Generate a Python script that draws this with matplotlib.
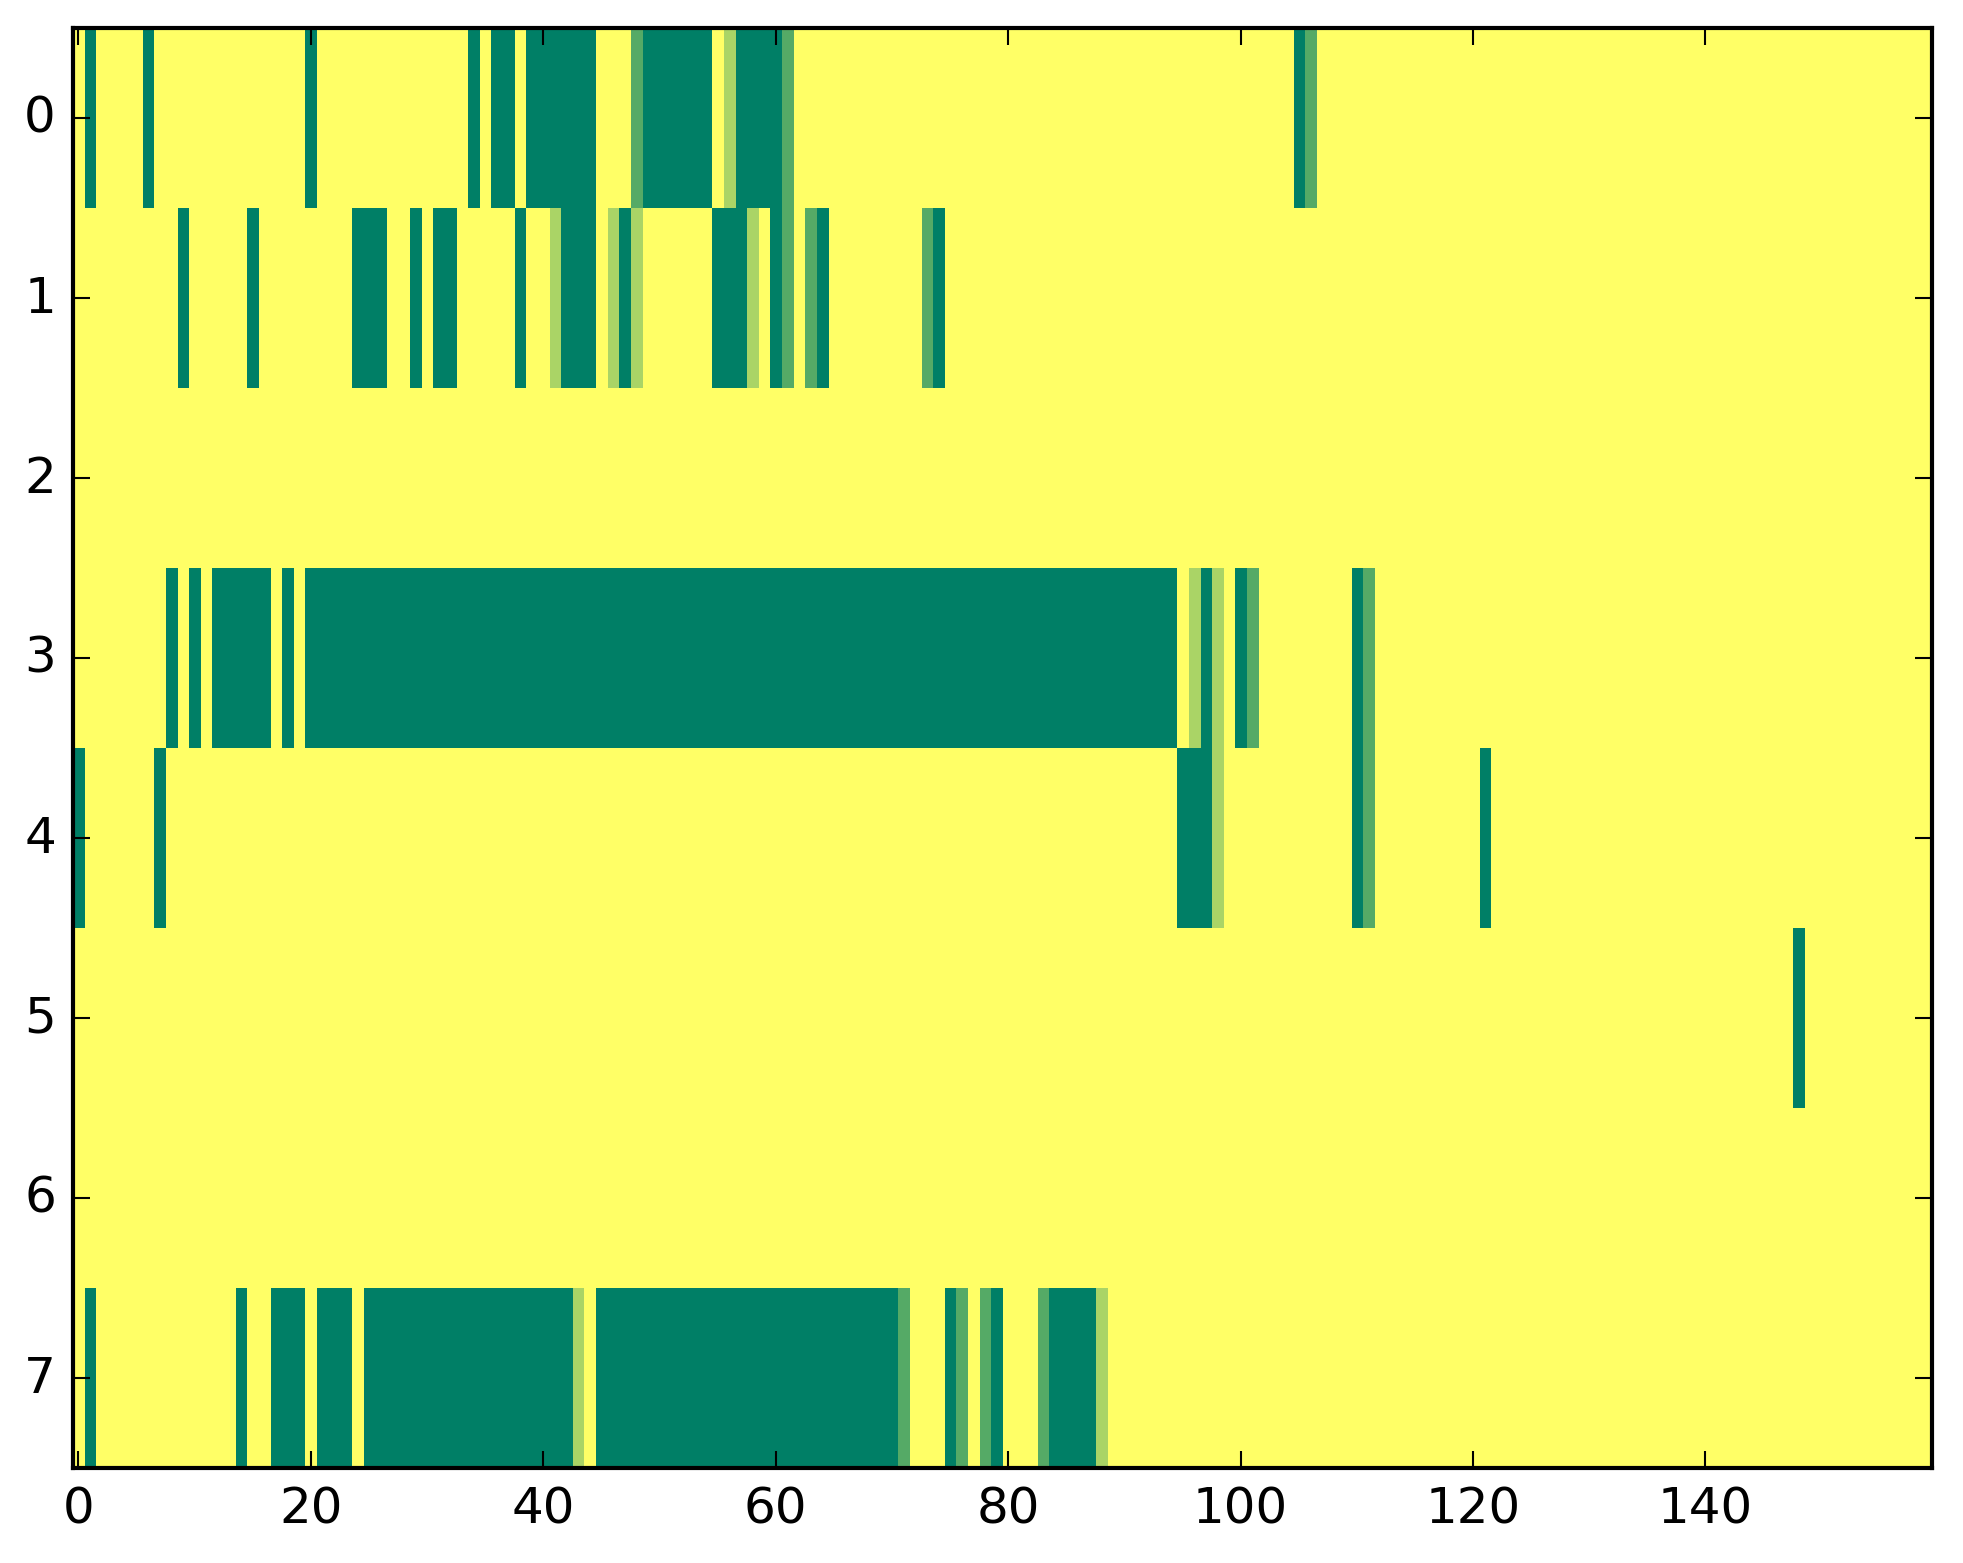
import numpy as np
import matplotlib
matplotlib.use("Agg")
import matplotlib.pyplot as plt

# one string per row, 160 cells, written in blocks of 10 columns
# D = 0 (dark green), M = 1, L = 2, . = 3 (yellow)
row0 = ".D....D... .......... D......... ....D.DD.D DDDDD...MD DDDDD.LDDD DM........ .......... .......... .......... .....DM... .......... .......... .......... .......... .........."
row1 = ".........D .....D.... ....DDD..D .DD.....D. .LDDD.LDL. .....DDDL. DM.MD..... ...MD..... .......... .......... .......... .......... .......... .......... .......... .........."
row2 = ".......... .......... .......... .......... .......... .......... .......... .......... .......... .......... .......... .......... .......... .......... .......... .........."
row3 = "........D. D.DDDDD.D. DDDDDDDDDD DDDDDDDDDD DDDDDDDDDD DDDDDDDDDD DDDDDDDDDD DDDDDDDDDD DDDDDDDDDD DDDDD.LDL. DM........ DM........ .......... .......... .......... .........."
row4 = "D......D.. .......... .......... .......... .......... .......... .......... .......... .......... .....DDDL. .......... DM........ .D........ .......... .......... .........."
row5 = ".......... .......... .......... .......... .......... .......... .......... .......... .......... .......... .......... .......... .......... .......... ........D. .........."
row6 = ".......... .......... .......... .......... .......... .......... .......... .......... .......... .......... .......... .......... .......... .......... .......... .........."
row7 = ".D........ ....D..DDD .DDD.DDDDD DDDDDDDDDD DDDL.DDDDD DDDDDDDDDD DDDDDDDDDD DM...DM.MD ...MDDDDL. .......... .......... .......... .......... .......... .......... .........."

rows = [row0, row1, row2, row3, row4, row5, row6, row7]
codes = {"D": 0, "M": 1, "L": 2, ".": 3}

grid = np.array([[codes[ch] for ch in r.replace(" ", "")] for r in rows], dtype=float)

plt.style.use("classic")
fig = plt.figure(figsize=(1963 / 300, 1564 / 300), dpi=300, facecolor="white")
ax = fig.add_axes([0.0370, 0.0609, 0.9472, 0.9206])
ax.imshow(grid, cmap="summer", vmin=0, vmax=3, aspect="auto", interpolation="nearest")
ax.set_xticks(np.arange(0, 160, 20))
ax.set_yticks(np.arange(0, 8))
ax.tick_params(labelsize=12)

fig.savefig("out.png", dpi=300, facecolor="white")
